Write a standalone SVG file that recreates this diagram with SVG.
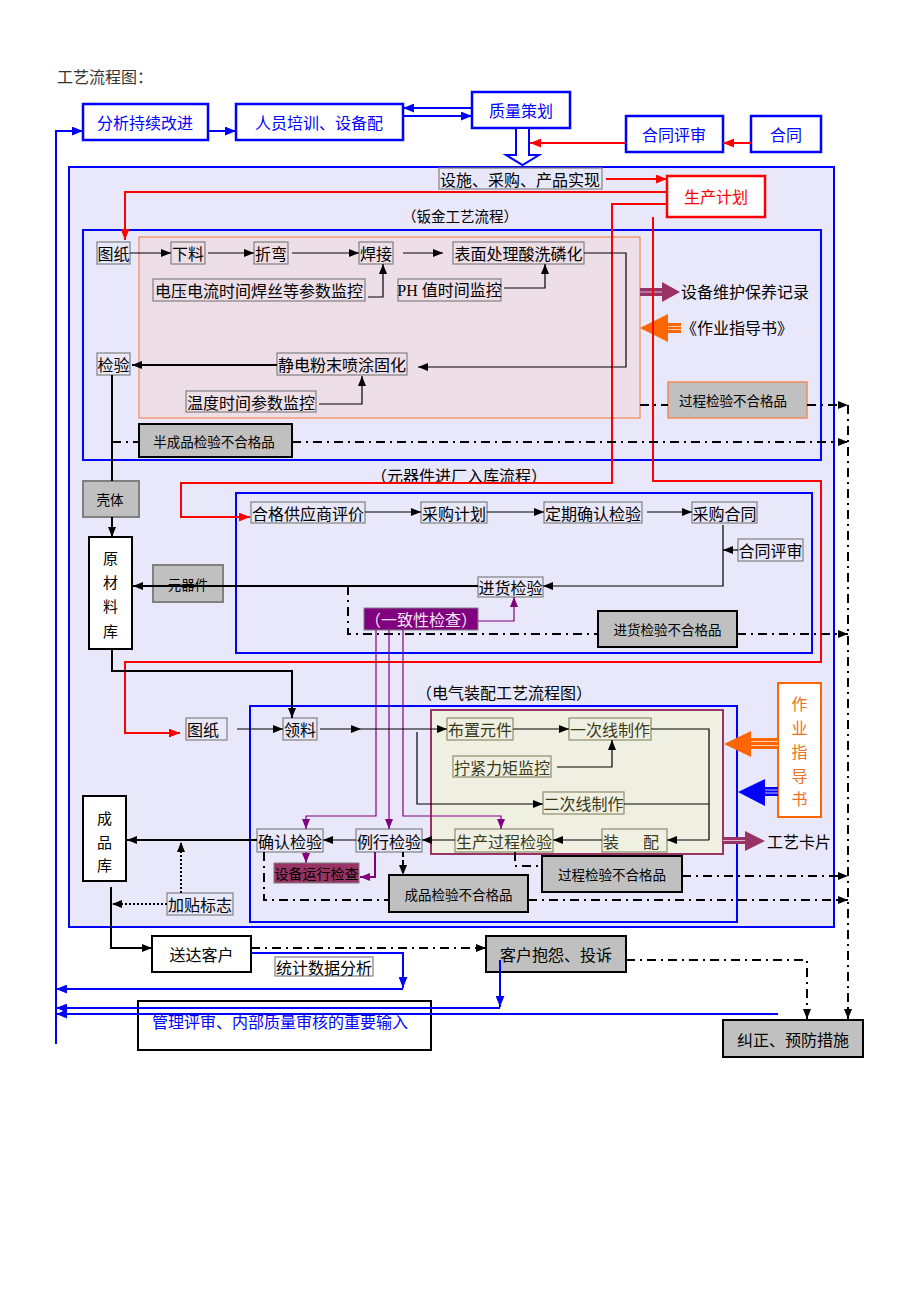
<svg xmlns="http://www.w3.org/2000/svg" width="920" height="1302" viewBox="0 0 920 1302">
<defs>
<style>
text{font-family:"Noto Sans CJK SC","Noto Sans",sans-serif;dominant-baseline:central;text-anchor:middle;fill:#000}
.f16{font-size:16px}.f15{font-size:15px}.f14{font-size:14px}.f13{font-size:13.5px}
.bb{fill:#fff;stroke:#0000ff;stroke-width:2.5}
.bt{fill:#0000ff}
.tb{fill:none;stroke:#808080;stroke-width:1.2}
.ob{fill:none;stroke:#8c8c6c;stroke-width:1.2}
.ot{fill:#3a3a1a}
.gb{fill:#c0c0c0;stroke:#000;stroke-width:2}
.wb{fill:#fff;stroke:#000;stroke-width:2}
.k{fill:none;stroke:#000;stroke-width:1.2}
.k2{fill:none;stroke:#000;stroke-width:2}
.bl{fill:none;stroke:#0000ff;stroke-width:2}
.rd{fill:none;stroke:#ff0000;stroke-width:2}
.pu{fill:none;stroke:#800080;stroke-width:1.2}
.dd{fill:none;stroke:#000;stroke-width:2;stroke-dasharray:9 5 2 5}
.ds{fill:none;stroke:#000;stroke-width:2;stroke-dasharray:5 3}
.dt{fill:none;stroke:#000;stroke-width:2;stroke-dasharray:2 2}
</style>
<marker id="ak" viewBox="0 0 10 8" refX="10" refY="4" markerWidth="10" markerHeight="8" orient="auto" markerUnits="userSpaceOnUse"><path d="M0,0 L10,4 L0,8 z" fill="#000"/></marker>
<marker id="ab" viewBox="0 0 10 8" refX="10" refY="4" markerWidth="11" markerHeight="9" orient="auto" markerUnits="userSpaceOnUse"><path d="M0,0 L10,4 L0,8 z" fill="#0000ff"/></marker>
<marker id="ar" viewBox="0 0 10 8" refX="10" refY="4" markerWidth="11" markerHeight="9" orient="auto" markerUnits="userSpaceOnUse"><path d="M0,0 L10,4 L0,8 z" fill="#ff0000"/></marker>
<marker id="ap" viewBox="0 0 10 8" refX="10" refY="4" markerWidth="10" markerHeight="8" orient="auto" markerUnits="userSpaceOnUse"><path d="M0,0 L10,4 L0,8 z" fill="#800080"/></marker>
</defs>

<text x="57" y="76" class="f16" style="text-anchor:start;fill:#333">工艺流程图：</text>

<g id="containers">
<rect id="outer" x="69" y="167" width="765" height="760" fill="#e8e8fa" stroke="#0000ff" stroke-width="2"/>
<rect id="sec-sheet" x="83" y="230" width="738" height="230" fill="none" stroke="#0000ff" stroke-width="2"/>
<rect id="sheet-inner" x="139" y="237" width="501" height="181" fill="#eedee7" stroke="#f28c55" stroke-width="1.2"/>
<rect id="sec-comp" x="236" y="493" width="576" height="160" fill="none" stroke="#0000ff" stroke-width="2"/>
<rect id="sec-elec" x="250" y="706" width="487" height="216" fill="none" stroke="#0000ff" stroke-width="2"/>
<rect id="elec-inner" x="431" y="710" width="292" height="144" fill="#f0f0e2" stroke="#993366" stroke-width="2"/>
<text x="460" y="215" style="font-size:14.5px">（钣金工艺流程）</text>
<text x="459" y="475" class="f16">（元器件进厂入库流程）</text>
<text x="504" y="692" class="f16">（电气装配工艺流程图）</text>
</g>

<g id="n-fenxi"><rect x="83" y="104" width="125" height="36" class="bb"/><text x="145" y="122" class="f16 bt">分析持续改进</text></g>
<g id="n-renyuan"><rect x="236" y="104" width="167" height="36" class="bb"/><text x="319" y="122" class="f16 bt">人员培训、设备配</text></g>
<g id="n-zhiliang"><rect x="472" y="92" width="98" height="36" class="bb"/><text x="521" y="110" class="f16 bt">质量策划</text></g>
<g id="n-hetongps"><rect x="626" y="116" width="97" height="36" class="bb"/><text x="674" y="134" class="f16 bt">合同评审</text></g>
<g id="n-hetong"><rect x="751" y="116" width="70" height="36" class="bb"/><text x="786" y="134" class="f16 bt">合同</text></g>
<g id="n-sheshi"><rect x="439" y="168" width="163" height="21" class="tb"/><text x="520" y="179" class="f16">设施、采购、产品实现</text></g>
<g id="n-shengchan"><rect x="667" y="176" width="98" height="41" fill="#fff" stroke="#ff0000" stroke-width="2.5"/><text x="716" y="196" class="f16" style="fill:#ff0000">生产计划</text></g>

<g id="n-tuzhi1"><rect x="97" y="242" width="33" height="22" class="tb"/><text x="113.5" y="253" class="f16">图纸</text></g>
<g id="n-xialiao"><rect x="171" y="242" width="34" height="22" class="tb"/><text x="188" y="253" class="f16">下料</text></g>
<g id="n-zhewan"><rect x="254" y="242" width="34" height="22" class="tb"/><text x="271" y="253" class="f16">折弯</text></g>
<g id="n-hanjie"><rect x="359" y="242" width="34" height="22" class="tb"/><text x="376" y="253" class="f16">焊接</text></g>
<g id="n-biaomian"><rect x="453" y="242" width="131" height="22" class="tb"/><text x="518.5" y="253" class="f16">表面处理酸洗磷化</text></g>
<g id="n-dianya"><rect x="153" y="279" width="212" height="22" class="tb"/><text x="259" y="290" class="f16">电压电流时间焊丝等参数监控</text></g>
<g id="n-ph"><rect x="398" y="279" width="103" height="22" class="tb"/><text x="449.5" y="290" class="f16" style="font-family:'Liberation Serif','Noto Sans CJK SC',serif">PH 值时间监控</text></g>
<g id="n-jianyan1"><rect x="97" y="353" width="33" height="22" class="tb"/><text x="113.5" y="364" class="f16">检验</text></g>
<g id="n-jingdian"><rect x="277" y="353" width="130" height="22" class="tb"/><text x="342" y="364" class="f16">静电粉末喷涂固化</text></g>
<g id="n-wendu"><rect x="186" y="391" width="130" height="21" class="tb"/><text x="251" y="401.5" class="f16">温度时间参数监控</text></g>
<g id="n-sbwh"><rect x="640" y="288" width="23" height="8" fill="#993366"/><line x1="640" y1="292" x2="663" y2="292" stroke="#d9b3c6" stroke-width="1"/><polygon points="662,282 680,292 662,302" fill="#993366"/><text x="681" y="291" class="f16" style="text-anchor:start">设备维护保养记录</text></g>
<g id="n-zydz1"><rect x="666" y="323" width="15" height="10" fill="#ff6600"/><line x1="666" y1="326.5" x2="681" y2="326.5" stroke="#ffd0b0" stroke-width="1"/><line x1="666" y1="329.5" x2="681" y2="329.5" stroke="#ffd0b0" stroke-width="1"/><polygon points="640,328 668,314 668,342" fill="#ff6600"/><text x="681" y="327" class="f16" style="text-anchor:start">《作业指导书》</text></g>
<g id="n-gcbhg1"><rect x="668" y="382" width="139" height="36" fill="#c0c0c0" stroke="#f28c55" stroke-width="1.5"/><text x="733" y="400" class="f13">过程检验不合格品</text></g>
<g id="n-bcp"><rect x="139" y="424" width="153" height="33" class="gb"/><text x="214" y="441" class="f13">半成品检验不合格品</text></g>

<g id="n-keti"><rect x="83" y="481" width="56" height="36" fill="#c0c0c0" stroke="#808080" stroke-width="2"/><text x="110" y="499" class="f13">壳体</text></g>
<g id="n-yclk"><rect x="89" y="537" width="43" height="112" class="wb"/><text class="f15"><tspan x="110.5" y="557">原</tspan><tspan x="110.5" y="581">材</tspan><tspan x="110.5" y="605">料</tspan><tspan x="110.5" y="630">库</tspan></text></g>
<g id="n-yqj"><rect x="153" y="565" width="70" height="37" fill="#c0c0c0" stroke="#808080" stroke-width="2"/><text x="188" y="584" class="f13">元器件</text></g>
<g id="n-gys"><rect x="251" y="502" width="114" height="21" class="tb"/><text x="308" y="512.5" class="f16">合格供应商评价</text></g>
<g id="n-cgjh"><rect x="421" y="502" width="66" height="21" class="tb"/><text x="454" y="512.5" class="f16">采购计划</text></g>
<g id="n-dqqr"><rect x="544" y="502" width="98" height="21" class="tb"/><text x="593" y="512.5" class="f16">定期确认检验</text></g>
<g id="n-cght"><rect x="692" y="502" width="65" height="21" class="tb"/><text x="724.5" y="512.5" class="f16">采购合同</text></g>
<g id="n-htps2"><rect x="738" y="539" width="65" height="22" class="tb"/><text x="770.5" y="550" class="f16">合同评审</text></g>
<g id="n-jhjy"><rect x="478" y="577" width="65" height="20" class="tb"/><text x="510.5" y="587" class="f16">进货检验</text></g>
<g id="n-yzx"><rect x="364" y="608" width="114" height="22" fill="#800080" stroke="#808080" stroke-width="1"/><text x="421" y="619" class="f16" style="fill:#f4e6f4">（一致性检查）</text></g>
<g id="n-jhbhg"><rect x="598" y="611" width="139" height="36" class="gb"/><text x="667.5" y="629" class="f13">进货检验不合格品</text></g>

<g id="n-tuzhi2"><rect x="186" y="718" width="41" height="22" class="tb"/><text x="203" y="729" class="f16">图纸</text></g>
<g id="n-lingliao"><rect x="283" y="718" width="34" height="22" class="tb"/><text x="300" y="729" class="f16">领料</text></g>
<g id="n-bzyj"><rect x="447" y="718" width="66" height="22" class="ob"/><text x="480" y="729" class="f16 ot">布置元件</text></g>
<g id="n-ycx"><rect x="569" y="718" width="82" height="22" class="ob"/><text x="610" y="729" class="f16 ot">一次线制作</text></g>
<g id="n-njlj"><rect x="453" y="756" width="98" height="21" class="ob"/><text x="502" y="766.5" class="f16 ot">拧紧力矩监控</text></g>
<g id="n-ecx"><rect x="543" y="792" width="81" height="22" class="ob"/><text x="583.5" y="803" class="f16 ot">二次线制作</text></g>
<g id="n-scgc"><rect x="455" y="829" width="98" height="23" class="ob"/><text x="504" y="840.5" class="f16 ot">生产过程检验</text></g>
<g id="n-zhuangpei"><rect x="602" y="829" width="65" height="23" class="ob"/><text class="f16 ot"><tspan x="611" y="840.5">装</tspan><tspan x="651" y="840.5">配</tspan></text></g>
<g id="n-lxjy"><rect x="356" y="829" width="66" height="23" class="tb"/><text x="389" y="840.5" class="f16">例行检验</text></g>
<g id="n-qrjy"><rect x="257" y="829" width="66" height="23" class="tb"/><text x="290" y="840.5" class="f16">确认检验</text></g>
<g id="n-sbyx"><rect x="274" y="863" width="85" height="20" fill="#993366" stroke="#808080" stroke-width="1"/><text x="316.5" y="873" class="f14">设备运行检查</text></g>
<g id="n-cpbhg"><rect x="389" y="875" width="139" height="37" class="gb"/><text x="458.5" y="893.5" class="f13">成品检验不合格品</text></g>
<g id="n-gcbhg2"><rect x="542" y="856" width="140" height="36" class="gb"/><text x="612" y="874" class="f13">过程检验不合格品</text></g>
<g id="n-cpk"><rect x="83" y="796" width="43" height="85" class="wb"/><text class="f15"><tspan x="104.5" y="817">成</tspan><tspan x="104.5" y="841">品</tspan><tspan x="104.5" y="864">库</tspan></text></g>
<g id="n-jtbz"><rect x="167" y="893" width="66" height="22" class="tb"/><text x="200" y="904" class="f16">加贴标志</text></g>
<g id="n-zydz2"><rect x="778" y="683" width="43" height="134" fill="#fff" stroke="#ff6600" stroke-width="2"/><text class="f16" style="fill:#f07020"><tspan x="799.5" y="703">作</tspan><tspan x="799.5" y="727">业</tspan><tspan x="799.5" y="751">指</tspan><tspan x="799.5" y="775">导</tspan><tspan x="799.5" y="798">书</tspan></text></g>
<g id="n-gykp"><text x="767" y="841" class="f16" style="text-anchor:start">工艺卡片</text></g>

<g id="n-sdkh"><rect x="152" y="936" width="99" height="36" class="wb"/><text x="201.5" y="954" class="f16">送达客户</text></g>
<g id="n-tjsj"><rect x="275" y="957" width="98" height="19" class="tb"/><text x="324" y="966.5" class="f16">统计数据分析</text></g>
<g id="n-khby"><rect x="486" y="936" width="140" height="36" class="gb"/><text x="556" y="954" class="f16">客户抱怨、投诉</text></g>
<g id="n-jzyf"><rect x="723" y="1020" width="140" height="37" class="gb"/><text x="793" y="1038.5" class="f16">纠正、预防措施</text></g>
<g id="n-glps"><rect x="138" y="1001" width="293" height="49" class="wb"/><text x="152" y="1021" class="f16" style="text-anchor:start;fill:#0000ff">管理评审、内部质量审核的重要输入</text></g>

<g id="connectors">
<path class="bl" d="M56,1044 V131 H83" marker-end="url(#ab)"/>
<path class="bl" d="M208,131 H236" marker-end="url(#ab)"/>
<path class="bl" d="M472,108 H403" marker-end="url(#ab)"/>
<path class="bl" d="M403,116 H472" marker-end="url(#ab)"/>
<polygon points="516,128 529,128 529,155 539,155 522.5,165 506,155 516,155" fill="#fff" stroke="#0000ff" stroke-width="2"/>
<path class="rd" d="M626,143 H530" marker-end="url(#ar)"/>
<path class="rd" d="M751,143 H723" marker-end="url(#ar)"/>
<path class="rd" d="M606,179 H667" marker-end="url(#ar)"/>
<path class="rd" d="M667,192 H125 V240" marker-end="url(#ar)"/>
<path class="rd" d="M667,204 H612 V483 H181 V517 H250" marker-end="url(#ar)"/>
<path class="rd" d="M653,217 V481 H821 V662 H125 V733 H180" marker-end="url(#ar)"/>

<path class="k" d="M130,253 H171" marker-end="url(#ak)"/>
<path class="k" d="M208,253 H254" marker-end="url(#ak)"/>
<path class="k" d="M292,253 H359" marker-end="url(#ak)"/>
<path class="k" d="M403,253 H443" marker-end="url(#ak)"/>
<path class="k" d="M368,297 H383 V264" marker-end="url(#ak)"/>
<path class="k" d="M504,288 H545 V264" marker-end="url(#ak)"/>
<path class="k" d="M584,253 H626 V367 H418" marker-end="url(#ak)"/>
<path class="k2" d="M277,365 H132" marker-end="url(#ak)"/>
<path class="k" d="M319,404 H362 V376" marker-end="url(#ak)"/>

<path class="dd" d="M640,405 H668"/>
<path class="dd" d="M807,405 H848" marker-end="url(#ak)"/>
<path class="dd" d="M112,442 H139"/>
<path class="dd" d="M292,442 H848" marker-end="url(#ak)"/>
<path class="dd" d="M848,405 V1019" marker-end="url(#ak)"/>

<path class="k2" d="M112,375 V481"/>
<path class="k2" d="M112,517 V537" marker-end="url(#ak)"/>
<path class="k2" d="M478,586 H133" marker-end="url(#ak)"/>
<path class="k" d="M365,512 H421" marker-end="url(#ak)"/>
<path class="k" d="M487,512 H544" marker-end="url(#ak)"/>
<path class="k" d="M647,512 H692" marker-end="url(#ak)"/>
<path class="k" d="M723,525 V586 H543" marker-end="url(#ak)"/>
<path class="k" d="M738,550 H723" marker-end="url(#ak)"/>
<path class="pu" d="M478,621 H514 V597" marker-end="url(#ap)"/>
<path class="dd" d="M348,586 V634 H598"/>
<path class="dd" d="M737,634 H848" marker-end="url(#ak)"/>
<path class="pu" d="M376,630 V816 H306 V829" marker-end="url(#ap)"/>
<path class="pu" d="M389,630 V829" marker-end="url(#ap)"/>
<path class="pu" d="M403,630 V816 H501 V829" marker-end="url(#ap)"/>

<path class="k2" d="M112,649 V671 H292 V718" marker-end="url(#ak)"/>
<path class="k" d="M237,729 H283" marker-end="url(#ak)"/>
<path class="k" d="M320,729 H361" marker-end="url(#ak)"/>
<path class="k" d="M361,729 H447" marker-end="url(#ak)"/>
<path class="k" d="M417,732 V804 H543" marker-end="url(#ak)"/>
<path class="k" d="M513,729 H569" marker-end="url(#ak)"/>
<path class="k" d="M557,767 H612 V740" marker-end="url(#ak)"/>
<path class="k" d="M651,729 H709 V840"/>
<path class="k" d="M624,804 H709"/>
<path class="k" d="M709,840 H667" marker-end="url(#ak)"/>
<path class="k" d="M602,840 H553" marker-end="url(#ak)"/>
<path class="k" d="M455,840 H422" marker-end="url(#ak)"/>
<path class="k" d="M356,840 H323" marker-end="url(#ak)"/>
<path class="k2" d="M257,840 H127" marker-end="url(#ak)"/>
<path class="dt" d="M181,893 V842" marker-end="url(#ak)"/>
<path class="dt" d="M167,904 H112" marker-end="url(#ak)"/>
<path class="k2" d="M111,887 V948 H152" marker-end="url(#ak)"/>
<path class="pu" d="M306,852 V863" marker-end="url(#ap)"/>
<path class="pu" style="stroke-width:2" d="M375,852 V877 H360" marker-end="url(#ap)"/>
<path class="ds" d="M403,852 V875" marker-end="url(#ak)"/>
<path class="dd" d="M264,852 V900 H389"/>
<path class="dd" d="M528,900 H848" marker-end="url(#ak)"/>
<path class="dd" d="M515,852 V866 H542"/>
<path class="dd" d="M682,876 H848" marker-end="url(#ak)"/>

<rect x="750" y="738" width="28" height="11" fill="#ff6600"/>
<line x1="750" y1="741.5" x2="778" y2="741.5" stroke="#ffd0b0" stroke-width="1"/>
<line x1="750" y1="745.5" x2="778" y2="745.5" stroke="#ffd0b0" stroke-width="1"/>
<polygon points="724,744 751,731 751,757" fill="#ff6600"/>
<rect x="764" y="787" width="14" height="9" fill="#0000ff"/>
<line x1="764" y1="790" x2="778" y2="790" stroke="#c0c0ff" stroke-width="1"/>
<line x1="764" y1="793" x2="778" y2="793" stroke="#c0c0ff" stroke-width="1"/>
<polygon points="738,792 765,779 765,806" fill="#0000ff"/>
<rect x="723" y="837" width="23" height="7" fill="#993366"/>
<line x1="723" y1="840.5" x2="746" y2="840.5" stroke="#d9b3c6" stroke-width="1"/>
<polygon points="745,831 765,841 745,851" fill="#993366"/>

<path class="dd" d="M251,948 H486" marker-end="url(#ak)"/>
<path class="bl" d="M251,953 H403 V988" marker-end="url(#ab)"/>
<path class="bl" d="M403,989 H56" marker-end="url(#ab)"/>
<path class="bl" d="M500,960 V1007" marker-end="url(#ab)"/>
<path class="bl" d="M500,1008 H56" marker-end="url(#ab)"/>
<path class="bl" d="M778,1014 H56" marker-end="url(#ab)"/>
<path class="dd" d="M626,960 H807 V1019" marker-end="url(#ak)"/>
</g>
</svg>
